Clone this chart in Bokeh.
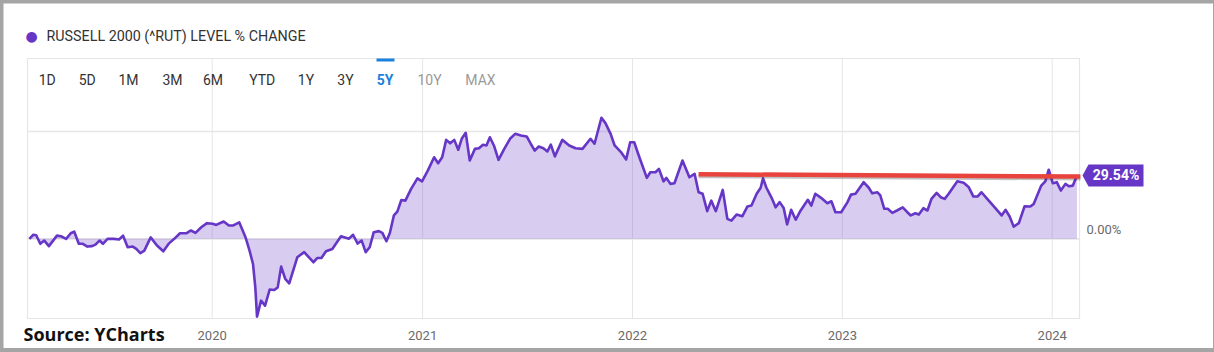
import pandas as pd
from bokeh.plotting import figure
from bokeh.models import (Label, PolyAnnotation, BoxAnnotation, Range1d, ColumnDataSource)
from bokeh.core.properties import value
from bokeh.layouts import column
from bokeh.embed import file_html
from bokeh.resources import INLINE

# ---------------- data ----------------
dates = [
    "2019-02-17", "2019-02-24", "2019-03-01", "2019-03-08", "2019-03-15", "2019-03-23",
    "2019-04-06", "2019-04-13", "2019-04-22", "2019-04-30", "2019-05-06", "2019-05-14",
    "2019-05-21", "2019-05-29", "2019-06-06", "2019-06-12", "2019-06-19", "2019-06-25",
    "2019-07-03", "2019-07-14", "2019-07-23", "2019-07-30", "2019-08-07", "2019-08-16",
    "2019-08-22", "2019-08-29", "2019-09-05", "2019-09-16", "2019-09-27", "2019-10-08",
    "2019-10-18", "2019-10-27", "2019-11-06", "2019-11-17", "2019-11-25", "2019-12-03",
    "2019-12-13", "2019-12-23", "2020-01-02", "2020-01-08", "2020-01-21", "2020-01-30",
    "2020-02-06", "2020-02-17", "2020-02-28", "2020-03-06", "2020-03-12", "2020-03-16",
    "2020-03-19", "2020-03-26", "2020-04-02", "2020-04-10", "2020-04-18", "2020-04-24",
    "2020-04-30", "2020-05-07", "2020-05-14", "2020-05-28", "2020-06-09", "2020-06-25",
    "2020-07-02", "2020-07-09", "2020-07-17", "2020-07-28", "2020-08-12", "2020-08-26",
    "2020-09-02", "2020-09-10", "2020-09-17", "2020-09-24", "2020-10-01", "2020-10-08",
    "2020-10-17", "2020-10-23", "2020-10-30", "2020-11-05", "2020-11-12", "2020-11-18",
    "2020-11-25", "2020-12-02", "2020-12-12", "2020-12-23", "2020-12-31", "2021-01-10",
    "2021-01-21", "2021-01-28", "2021-02-04", "2021-02-11", "2021-02-18", "2021-02-25",
    "2021-03-04", "2021-03-10", "2021-03-17", "2021-03-24", "2021-04-02", "2021-04-09",
    "2021-04-16", "2021-04-22", "2021-04-28", "2021-05-05", "2021-05-13", "2021-05-23",
    "2021-06-02", "2021-06-11", "2021-06-21", "2021-07-01", "2021-07-08", "2021-07-15",
    "2021-07-22", "2021-07-30", "2021-08-06", "2021-08-12", "2021-08-19", "2021-09-01",
    "2021-09-13", "2021-09-24", "2021-10-06", "2021-10-20", "2021-10-27", "2021-11-08",
    "2021-11-15", "2021-11-24", "2021-12-01", "2021-12-12", "2021-12-21", "2021-12-28",
    "2022-01-04", "2022-01-13", "2022-01-26", "2022-02-01", "2022-02-10", "2022-02-16",
    "2022-02-24", "2022-03-01", "2022-03-08", "2022-03-15", "2022-03-29", "2022-04-10",
    "2022-04-19", "2022-04-26", "2022-05-03", "2022-05-11", "2022-05-18", "2022-05-26",
    "2022-06-07", "2022-06-15", "2022-06-22", "2022-07-01", "2022-07-11", "2022-07-20",
    "2022-07-27", "2022-08-05", "2022-08-12", "2022-08-16", "2022-08-22", "2022-08-31",
    "2022-09-07", "2022-09-14", "2022-09-21", "2022-09-27", "2022-10-04", "2022-10-12",
    "2022-10-20", "2022-11-02", "2022-11-08", "2022-11-15", "2022-11-25", "2022-12-06",
    "2022-12-13", "2022-12-20", "2022-12-30", "2023-01-10", "2023-01-16", "2023-01-24",
    "2023-02-07", "2023-02-16", "2023-02-22", "2023-03-03", "2023-03-08", "2023-03-15",
    "2023-03-21", "2023-03-29", "2023-04-06", "2023-04-16", "2023-04-24", "2023-04-30",
    "2023-05-08", "2023-05-14", "2023-05-22", "2023-05-29", "2023-06-05", "2023-06-14",
    "2023-06-21", "2023-06-28", "2023-07-05", "2023-07-20", "2023-07-31", "2023-08-09",
    "2023-08-17", "2023-08-24", "2023-08-31", "2023-09-10", "2023-09-23", "2023-10-05",
    "2023-10-12", "2023-10-19", "2023-10-26", "2023-11-04", "2023-11-14", "2023-11-24",
    "2023-11-30", "2023-12-13", "2023-12-20", "2023-12-26", "2024-01-02", "2024-01-09",
    "2024-01-16", "2024-01-24", "2024-01-30", "2024-02-06", "2024-02-13",
]
pct_change = [
    0.0, 1.9, 1.7, -2.3, -0.8, -3.4,
    1.5, 1.2, 0.0, 2.6, 3.4, -2.3,
    -2.3, -3.6, -3.4, -2.7, -0.8, -2.3,
    0.0, 0.0, -0.3, 1.5, -3.9, -3.6,
    -4.7, -6.7, -5.5, 0.7, -3.1, -5.8,
    -2.1, 0.0, 2.6, 2.6, 3.9, 2.8,
    5.4, 7.3, 7.0, 6.5, 8.1, 6.2,
    6.2, 7.7, 0.7, -5.5, -11.7, -22.6,
    -36.2, -28.8, -31.1, -23.6, -23.8, -22.6,
    -12.9, -18.6, -20.7, -8.6, -6.2, -10.9,
    -8.9, -8.9, -5.8, -4.7, 1.2, 0.1,
    1.9, -2.2, -0.8, -6.2, -3.9, 3.1,
    3.6, 2.8, -1.1, 2.7, 10.9, 12.7,
    18.1, 17.8, 23.3, 28.2, 26.8, 31.8,
    38.0, 35.2, 38.0, 46.1, 44.5, 46.1,
    41.5, 46.6, 49.4, 36.5, 41.9, 42.2,
    43.8, 43.5, 47.3, 43.5, 36.8, 41.9,
    46.6, 48.9, 48.1, 47.7, 44.3, 41.1,
    43.0, 42.2, 40.7, 43.9, 38.4, 46.1,
    43.5, 42.2, 41.9, 46.6, 44.3, 56.4,
    53.9, 48.9, 43.5, 40.4, 37.0, 45.0,
    45.0, 38.0, 28.4, 31.0, 31.0, 32.6,
    26.8, 28.4, 25.6, 25.9, 36.5, 28.7,
    30.3, 21.7, 21.0, 12.9, 17.8, 12.9,
    22.8, 9.3, 8.5, 11.3, 10.5, 15.1,
    15.5, 21.0, 23.8, 28.2, 23.8, 19.1,
    14.7, 17.1, 14.4, 6.7, 13.5, 8.9,
    13.0, 18.2, 15.5, 21.0, 19.1, 16.6,
    17.5, 12.4, 12.4, 17.1, 20.6, 21.0,
    26.4, 23.8, 21.2, 21.7, 20.2, 14.0,
    14.0, 12.1, 13.2, 14.7, 12.4, 10.9,
    11.9, 11.3, 14.3, 13.2, 18.6, 21.4,
    19.4, 18.6, 21.0, 26.8, 26.1, 24.0,
    19.7, 19.7, 21.7, 18.6, 14.7, 10.9,
    13.5, 10.4, 5.7, 7.3, 15.2, 15.1,
    16.3, 24.8, 26.8, 32.2, 25.9, 26.4,
    22.5, 25.6, 24.5, 24.8, 29.54,
]
year_ticks = ["2020-01-01", "2021-01-01", "2022-01-01", "2023-01-01", "2024-01-01"]
year_labels = ["2020", "2021", "2022", "2023", "2024"]
y_grid_values = [0, 50]
buttons = ["1D", "5D", "1M", "3M", "6M", "YTD", "1Y", "3Y", "5Y", "10Y", "MAX"]
active_button = "5Y"
disabled_buttons = ["10Y", "MAX"]
trend_dates = ["2022-04-26", "2024-02-19"]
trend_values = [30.1, 29.0]
series_title = "RUSSELL 2000 (^RUT) LEVEL % CHANGE"
source_text = "Source: YCharts"
x_start, x_end = "2019-02-13 19:00", "2024-02-17 12:00"
y_min, y_max = -37.1, 84.0

# ---------------- layout / styling ----------------
W, H = 1210, 345
PLOT_L, PLOT_R, PLOT_T, PLOT_B = 24, 1076, 55, 315   # inner chart box in canvas px
PURPLE = "#6636c6"
FILL = "#6a3bc7"
GRID = "#e6e6e6"
AXIS_FONT = "Roboto"

xs, xe = pd.Timestamp(x_start), pd.Timestamp(x_end)
per_px = (xe - xs) / (PLOT_R - PLOT_L)
per_py = (y_max - y_min) / (PLOT_B - PLOT_T)
x_range = Range1d(xs - per_px * PLOT_L, xe + per_px * (W - PLOT_R))
y_range = Range1d(y_min - per_py * (H - PLOT_B), y_max + per_py * PLOT_T)

df = pd.DataFrame({"date": pd.to_datetime(dates), "value": pct_change})
src = ColumnDataSource(df)

p = figure(width=W, height=H, x_axis_type="datetime",
           x_axis_location=None, y_axis_location=None,
           x_range=x_range, y_range=y_range,
           min_border_left=0, min_border_right=0, min_border_top=0, min_border_bottom=0,
           toolbar_location=None, output_backend="svg",
           background_fill_color="white", border_fill_color="white",
           outline_line_color=None)
p.title.visible = False
p.xgrid.visible = False
p.ygrid.visible = False
p.margin = (3, 1, 4, 3)

tick_dates = pd.to_datetime(year_ticks)
# vertical year grid lines and horizontal value grid lines inside the chart box
p.segment(x0=tick_dates, y0=y_min, x1=tick_dates, y1=y_max, line_color=GRID, line_width=1)
p.segment(x0=xs, y0=y_grid_values, x1=xe, y1=y_grid_values, line_color=GRID, line_width=1.6)
# chart box
p.quad(left=xs, right=xe, bottom=y_min, top=y_max, fill_color=None,
       line_color=GRID, line_width=1.2)

# year labels under the box
p.text(x=tick_dates, y=y_min, text=year_labels, y_offset=16.5,
       text_align="center", text_baseline="middle",
       text_font=value(AXIS_FONT), text_font_size="13px", text_color="#6a6a6a")

p.varea(x="date", y1=0, y2="value", source=src, fill_color=FILL, fill_alpha=0.26)
p.line(x="date", y="value", source=src, line_color=PURPLE, line_width=2.6, line_join="round")

# red annotation line with a soft shadow
tdates = pd.to_datetime(trend_dates)
p.line(tdates, [v - 0.9 for v in trend_values], line_color="#333333", line_alpha=0.3,
       line_width=4)
p.line(tdates, trend_values, line_color="#e8433c", line_width=4.5)


def lab(text, x, y, **kw):
    opts = dict(x_units="screen", y_units="screen", text_font="Roboto",
                text_font_size="14px", text_color="#333333",
                text_baseline="middle", text_align="left")
    opts.update(kw)
    p.add_layout(Label(text=text, x=x, y=y, **opts))


def sx(px):          # canvas px (from left)  -> screen units
    return px


def sy(py):          # canvas px (from top)   -> screen units (from bottom)
    return H - py


# header: dot + series name
lab("\u25cf", sx(28), sy(32.7), text_color=PURPLE, text_font="DejaVu Sans",
    text_font_size="14px", text_align="center")
lab(series_title, sx(43), sy(32.7), text_font_size="14.3px")

# range buttons
btn_x = [43.7, 83.7, 125, 169, 209.5, 258.7, 302.5, 342, 381.5, 426, 477]
for name, bx in zip(buttons, btn_x):
    if name == active_button:
        lab(name, sx(bx), sy(76.5), text_align="center", text_color="#1a82dc",
            text_font_style="bold")
    elif name in disabled_buttons:
        lab(name, sx(bx), sy(76.5), text_align="center", text_color="#9a9a9a")
    else:
        lab(name, sx(bx), sy(76.5), text_align="center")
p.add_layout(BoxAnnotation(left=sx(373), right=sx(391), bottom=sy(58), top=sy(55),
                           left_units="screen", right_units="screen",
                           bottom_units="screen", top_units="screen",
                           fill_color="#1a82dc", fill_alpha=1, line_color=None))

# right side labels
p.add_layout(Label(text="0.00%", x=sx(1083), y=0, x_units="screen", y_units="data",
                   y_offset=2, text_baseline="bottom", text_align="left",
                   text_font=AXIS_FONT, text_font_size="13px", text_color="#6a6a6a"))
last_v = pct_change[-1]
half = 11 * per_py
p.add_layout(PolyAnnotation(xs=[sx(1079), sx(1085), sx(1140), sx(1140), sx(1085)],
                            xs_units="screen",
                            ys=[last_v, last_v + half, last_v + half, last_v - half, last_v - half],
                            ys_units="data", fill_color=PURPLE, fill_alpha=1, line_color=None))
p.add_layout(Label(text=f"{last_v:.2f}%", x=sx(1112.5), y=last_v, x_units="screen",
                   y_units="data", text_baseline="middle", text_align="center",
                   text_font=AXIS_FONT, text_font_size="14px", text_font_style="bold",
                   text_color="white"))

# source note
lab(source_text, sx(20), sy(330.5), text_font="Open Sans", text_font_size="18px",
    text_font_style="bold", text_color="#111111")

layout = column(p, styles={"background-color": "#a5a5a5"})
open("out.html", "w").write(file_html(layout, INLINE))
